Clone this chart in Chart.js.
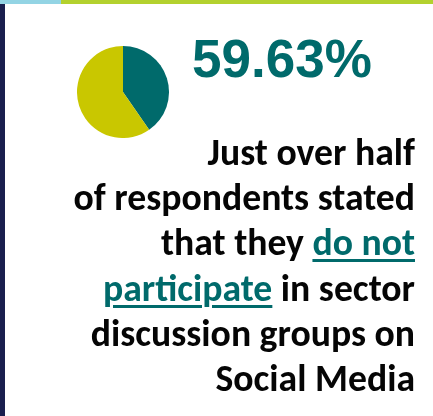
<!DOCTYPE html>
<html>
<head>
<meta charset="utf-8">
<script src="https://cdn.jsdelivr.net/npm/chart.js@4"></script>
<style>
  html, body { margin: 0; padding: 0; background: #ffffff; }
  body { width: 433px; height: 416px; position: relative; overflow: hidden; }
  .bar-top-blue { position: absolute; left: 0; top: 0; width: 61px; height: 4px; background: #93d4e4; }
  .bar-top-green { position: absolute; left: 61px; top: 0; right: 0; height: 4px; background: #b3d12e; }
  .bar-left { position: absolute; left: 0; top: 4px; width: 5px; bottom: 0; background: #1a1f4e; }
  #pieWrap { position: absolute; left: 77px; top: 46px; width: 92px; height: 92px; }
  #headline {
    position: absolute; left: 192px; top: 32px;
    font-family: "Liberation Sans", Arial, sans-serif; font-weight: bold;
    font-size: 53px; line-height: 53px; color: #006a6b; white-space: nowrap;
  }
  #caption {
    position: absolute; right: 18px; top: 130px; width: 420px;
    font-family: Calibri, Carlito, Lato, sans-serif; font-weight: bold;
    font-size: 37.7px; line-height: 45.2px; color: #050505; text-align: right;
    white-space: nowrap;
  }
  #caption .hl {
    color: #006a6b; text-decoration: underline; text-decoration-thickness: 3px;
    text-underline-offset: 4px;
  }
</style>
</head>
<body>
<div class="bar-top-blue"></div>
<div class="bar-top-green"></div>
<div class="bar-left"></div>
<div id="pieWrap"><canvas id="pie"></canvas></div>
<div id="headline"></div>
<div id="caption">Just over half<br>of respondents stated<br>that they <span class="hl">do not</span><br><span class="hl">participate</span> in sector<br>discussion groups on<br>Social Media</div>
<script>
  // Share of respondents: participate vs. do not participate
  const categories = ['Participate', 'Do not participate'];
  const shares = [40.37, 59.63];
  const sliceColors = ['#006a6b', '#c9c700'];

  document.getElementById('headline').textContent = shares[1].toFixed(2) + '%';

  new Chart(document.getElementById('pie'), {
    type: 'pie',
    data: {
      labels: categories,
      datasets: [{
        data: shares,
        backgroundColor: sliceColors,
        borderWidth: 0
      }]
    },
    options: {
      responsive: true,
      maintainAspectRatio: true,
      aspectRatio: 1,
      animation: false,
      layout: { padding: 0 },
      plugins: {
        legend: { display: false },
        tooltip: { enabled: false }
      }
    }
  });
</script>
</body>
</html>
